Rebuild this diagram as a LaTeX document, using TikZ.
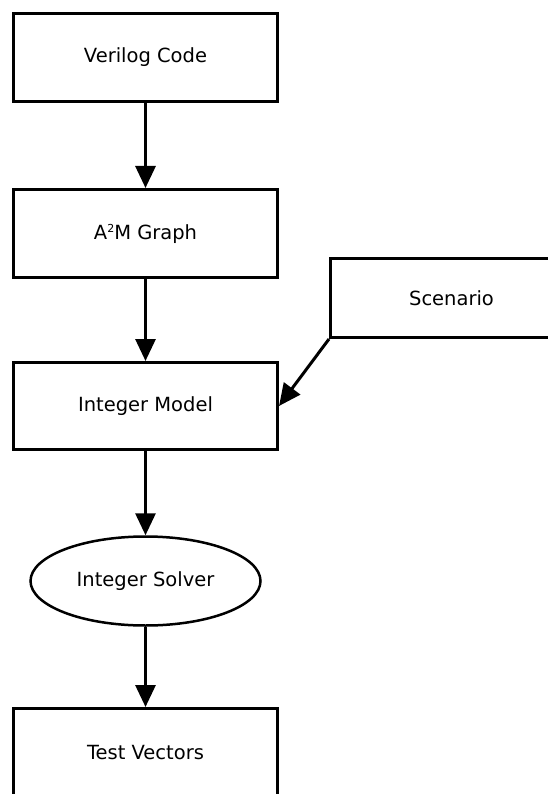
\documentclass[tikz,border=0pt]{standalone}
\usepackage{fontspec}
\setmainfont{DejaVu Sans}
\usetikzlibrary{arrows.meta,shapes.geometric}
\begin{document}
\begin{tikzpicture}[x=1pt,y=-1pt,
  font=\fontsize{19.5}{22}\selectfont,
  box/.style={draw=black,line width=3pt,rectangle,minimum width=264pt,minimum height=88pt,inner sep=0pt},
  oval/.style={draw=black,line width=2.5pt,ellipse,minimum width=230pt,minimum height=89pt,inner sep=0pt},
  flow/.style={line width=3pt,-{Triangle[width=20pt,length=22pt]}}]
\useasboundingbox (0,0) rectangle (548,794);
\clip (0,0) rectangle (548,794);
\fill[white] (0,0) rectangle (548,794);
\node[box] (vc) at (145.5,57.5) {\raisebox{-2pt}{Verilog Code}};
\node[box] (am) at (145.5,233.5) {\raisebox{-2pt}{A{\fontsize{11}{11}\selectfont\raisebox{7pt}{2}}M Graph}};
\node[box,minimum width=242pt,minimum height=79pt] (sc) at (451.5,298) {Scenario};
\node[box,minimum height=87pt] (im) at (145.5,406) {\raisebox{-2pt}{Integer Model}};
\node[oval] (is) at (145.5,581) {\raisebox{-2pt}{Integer Solver}};
\node[box] (tv) at (145.5,752.5) {Test Vectors};
\draw[flow] (vc) -- (am);
\draw[flow] (am) -- (im);
\draw[flow] (sc.south west) -- (im.east);
\draw[flow] (im) -- (is);
\draw[flow] (is) -- (tv);
\end{tikzpicture}
\end{document}
